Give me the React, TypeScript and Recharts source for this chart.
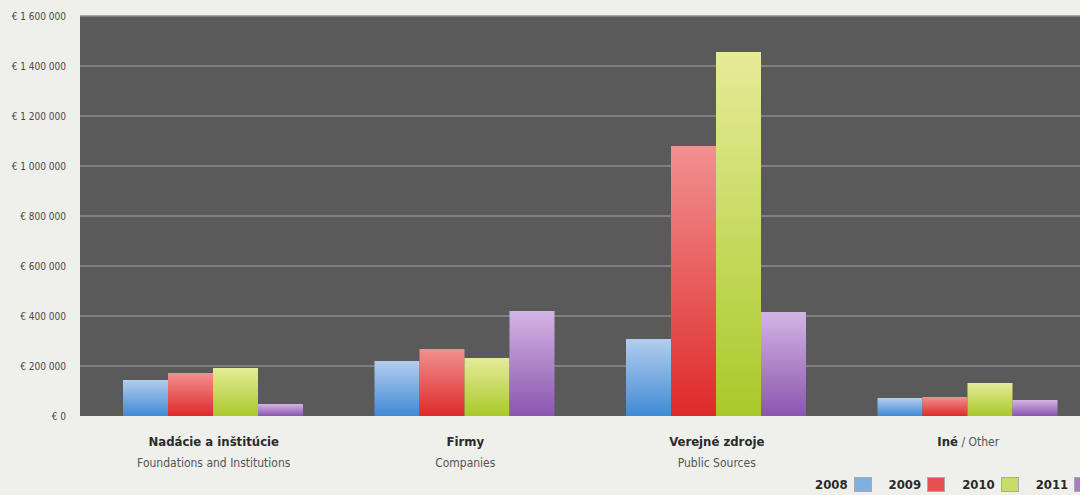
import { Bar, BarChart, CartesianGrid, XAxis, YAxis } from "recharts";

const categories = [
  { main: "Nadácie a inštitúcie", sub: "Foundations and Institutions" },
  { main: "Firmy", sub: "Companies" },
  { main: "Verejné zdroje", sub: "Public Sources" },
  { main: "Iné", sub: " / Other", inline: true },
];

const years = ["2008", "2009", "2010", "2011"];

const values2008 = [144000, 220000, 308000, 72000];
const values2009 = [172000, 268000, 1080000, 76000];
const values2010 = [192000, 232000, 1456000, 132000];
const values2011 = [48000, 420000, 416000, 64000];

const yTicks = [0, 200000, 400000, 600000, 800000, 1000000, 1200000, 1400000, 1600000];
const Y_MAX = 1600000;

const GRADS = [
  ["#b4cdee", "#3f8ad6"],
  ["#f29090", "#de2a2a"],
  ["#e6eb98", "#a9c92a"],
  ["#d4b4e4", "#8a56ae"],
];
const SWATCH = ["#7fb0e4", "#e65050", "#c8dc6a", "#a77cc6"];

const FONT = "'Liberation Sans Narrow', 'DejaVu Sans Condensed', 'Roboto', sans-serif";

const data = categories.map((c, i) => ({
  name: c.main,
  y2008: values2008[i],
  y2009: values2009[i],
  y2010: values2010[i],
  y2011: values2011[i],
}));

const fmt = (v: number) =>
  "€ " + String(v).replace(/\B(?=(\d{3})+(?!\d))/g, " ");

// grid lines at every tick except the zero baseline
const gridLines = ({ offset }: any) =>
  yTicks
    .filter((t) => t > 0)
    .map((t) => offset.top + offset.height * (1 - t / Y_MAX));

function CategoryTick(props: any) {
  const { x, y, index } = props;
  const c = categories[index];
  if (!c) return null;
  if (c.inline) {
    return (
      <text x={x} y={y + 22} textAnchor="middle" fontFamily={FONT} fontSize={13}>
        <tspan fontWeight="bold" fill="#2a2a2a">{c.main}</tspan>
        <tspan fill="#555" fontSize={12}>{c.sub}</tspan>
      </text>
    );
  }
  return (
    <g>
      <text x={x} y={y + 22} textAnchor="middle" fontFamily={FONT} fontSize={13} fontWeight="bold" fill="#2a2a2a">
        {c.main}
      </text>
      <text x={x} y={y + 43} textAnchor="middle" fontFamily={FONT} fontSize={12} fill="#555">
        {c.sub}
      </text>
    </g>
  );
}

export default function App() {
  return (
    <div
      style={{
        position: "absolute",
        left: 0,
        top: 0,
        width: 1080,
        height: 495,
        overflow: "hidden",
        background: "#efefeb",
      }}
    >
      <BarChart
        width={1094}
        height={495}
        data={data}
        margin={{ top: 16, right: 0, left: 0, bottom: 0 }}
        barCategoryGap={35}
        barGap={0}
      >
        <defs>
          {GRADS.map((g, i) => (
            <linearGradient key={i} id={`g${i}`} x1="0" y1="0" x2="0" y2="1">
              <stop offset="0%" stopColor={g[0]} />
              <stop offset="100%" stopColor={g[1]} />
            </linearGradient>
          ))}
        </defs>
        <CartesianGrid
          vertical={false}
          stroke="#8c8c8c"
          strokeWidth={1.5}
          fill="#5a5a5a"
          horizontalCoordinatesGenerator={gridLines}
        />
        <XAxis
          dataKey="name"
          axisLine={false}
          tickLine={false}
          height={79}
          padding={{ left: 8, right: 0 }}
          tick={<CategoryTick />}
          interval={0}
        />
        <YAxis
          width={80}
          domain={[0, Y_MAX]}
          ticks={yTicks}
          axisLine={false}
          tickLine={false}
          tickSize={0}
          tickMargin={14}
          tickFormatter={fmt}
          tick={{ fontSize: 10, fill: "#4a4a4a", fontFamily: FONT }}
        />
        {years.map((yr, i) => (
          <Bar key={yr} dataKey={`y${yr}`} fill={`url(#g${i})`} isAnimationActive={false} />
        ))}
      </BarChart>
      <div
        style={{
          position: "absolute",
          top: 477,
          left: 815,
          display: "flex",
          fontFamily: FONT,
          fontWeight: "bold",
          fontSize: 13,
          color: "#2a2a2a",
          whiteSpace: "nowrap",
        }}
      >
        {years.map((yr, i) => (
          <div key={yr} style={{ display: "flex", alignItems: "center", marginRight: 17 }}>
            <span style={{ marginRight: 6 }}>{yr}</span>
            <span
              style={{
                display: "inline-block",
                width: 18,
                height: 15,
                background: SWATCH[i],
                border: "1px solid #aaa",
                boxSizing: "border-box",
              }}
            />
          </div>
        ))}
      </div>
    </div>
  );
}
